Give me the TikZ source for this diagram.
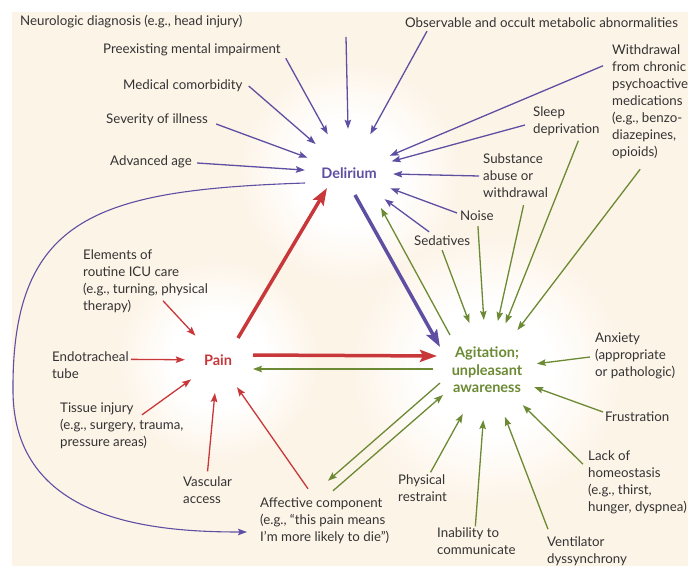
\documentclass[tikz,border=0pt]{standalone}
\usepackage{fontspec}
\setmainfont{Lato}
\usetikzlibrary{arrows.meta,calc}
\definecolor{bgc}{HTML}{FDF4E8}
\definecolor{pur}{HTML}{5E4FA2}
\definecolor{redc}{HTML}{C8383A}
\definecolor{grn}{HTML}{6B8A33}
\definecolor{txt}{HTML}{333333}
\pgfdeclareradialshading{glow}{\pgfpoint{0bp}{0bp}}{color(0bp)=(white); color(12bp)=(white); color(25bp)=(bgc); color(50bp)=(bgc)}
\begin{document}
\begin{tikzpicture}[x=1pt,y=-1pt,
  lab/.style={font=\fontsize{13.3}{17}\selectfont, text=txt, align=left, inner sep=0pt, anchor=west},
  cnode/.style={circle, inner sep=0pt, font=\fontsize{14.5}{17.5}\selectfont\bfseries, align=center},
  parr/.style={draw=pur, line width=1.3pt, -{Stealth[length=9pt,width=6.5pt,inset=1.5pt]}},
  garr/.style={draw=grn, line width=1.3pt, -{Stealth[length=9pt,width=6.5pt,inset=1.5pt]}},
  rarr/.style={draw=redc, line width=1.3pt, -{Stealth[length=9pt,width=6.5pt,inset=1.5pt]}},
  thick arr/.style={line width=3.5pt, -{Stealth[length=17pt,width=12pt,inset=3pt]}}]
\useasboundingbox (0,0) rectangle (688,572);
\fill[bgc] (12,12) rectangle (688,566);
\shade[shading=glow] (349,173) circle (110pt);
\shade[shading=glow] (218,360) circle (100pt);
\shade[shading=glow] (487,370) circle (135pt);

% centre nodes
\node[cnode, text=pur, minimum size=88pt] (delir) at (349,173) {Delirium};
\node[cnode, text=redc, minimum size=66pt] (pain) at (218,360) {Pain};
\node[cnode, text=grn, minimum size=100pt] (agit) at (487,370) {Agitation;\\unpleasant\\awareness};

% labels
\node[lab] (neuro) at (20,22) {Neurologic diagnosis (e.g., head injury)};
\node[lab] (preex) at (103,50) {Preexisting mental impairment};
\node[lab] (medcom) at (123,86) {Medical comorbidity};
\node[lab] (sever) at (106,120) {Severity of illness};
\node[lab] (age) at (110,162) {Advanced age};
\node[lab] (metab) at (405,23) {Observable and occult metabolic abnormalities};
\node[lab] (withd) at (612,102) {Withdrawal\\from chronic\\psychoactive\\medications\\(e.g., benzo-\\diazepines,\\opioids)};
\node[lab] (sleep) at (533,121) {Sleep\\deprivation};
\node[lab] (subst) at (483,176) {Substance\\abuse or\\withdrawal};
\node[lab] (noise) at (460,216) {Noise};
\node[lab] (sedat) at (414,241) {Sedatives};
\node[lab] (elem) at (83,281) {Elements of\\routine ICU care\\(e.g., turning, physical\\therapy)};
\node[lab] (endo) at (52,365) {Endotracheal\\tube};
\node[lab] (tissue) at (60,426) {Tissue injury\\(e.g., surgery, trauma,\\pressure areas)};
\node[lab] (vasc) at (183,490) {Vascular\\access};
\node[lab] (affect) at (260,521) {Affective component\\(e.g., “this pain means\\I’m more likely to die”)};
\node[lab] (anxiety) at (595,356) {Anxiety\\(appropriate\\or pathologic)};
\node[lab] (frust) at (605,417) {Frustration};
\node[lab] (lack) at (588,482) {Lack of\\homeostasis\\(e.g., thirst,\\hunger, dyspnea)};
\node[lab] (phys) at (398,488) {Physical\\restraint};
\node[lab] (inab) at (437,541) {Inability to\\communicate};
\node[lab] (vent) at (547,551) {Ventilator\\dyssynchrony};

% purple arrows into Delirium
\coordinate (topc) at (346,37);
\draw[parr] (topc) -- (delir);
\draw[parr] ($(preex.south east)+(5,2)$) -- (delir);
\draw[parr] ($(medcom.east)+(6,0)$) -- (delir);
\draw[parr] ($(sever.east)+(8,4)$) -- (delir);
\draw[parr] ($(age.east)+(5,1)$) -- (delir);
\draw[parr] ($(metab.south west)+(22,3)$) -- (delir);
\draw[parr] ($(withd.north west)+(-9,21)$) -- (delir);
\draw[parr] ($(sleep.west)+(-8,4)$) -- (delir);
\draw[parr] ($(subst.west)+(-4,0)$) -- (delir);
\draw[parr] ($(noise.west)+(-3,-3)$) -- (delir);
\draw[parr] ($(sedat.north)+(-13,-4)$) -- (delir);

% green arrows into Agitation
\draw[garr] ($(sedat.south)+(0,4)$) -- (agit);
\draw[garr] ($(noise.south)+(1,5)$) -- (agit);
\draw[garr] ($(subst.south)+(8,7)$) -- (agit);
\draw[garr] ($(sleep.south)+(12,5)$) -- (agit);
\draw[garr] ($(withd.south)+(-10,10)$) -- (agit);
\draw[garr] ($(anxiety.west)+(-5,1)$) -- (agit);
\draw[garr] ($(frust.west)+(-2,-5)$) -- (agit);
\draw[garr] ($(lack.north west)+(-5,14)$) -- (agit);
\draw[garr] ($(vent.north west)+(1,-7)$) -- (agit);
\draw[garr] ($(inab.north)+(-1,-1)$) -- (agit);
\draw[garr] ($(phys.north)+(8,-2)$) -- (agit);

% red arrows into Pain
\draw[rarr] ($(elem.south west)+(80,-12)$) -- (pain);
\draw[rarr] ($(endo.north east)+(2,8)$) -- (pain);
\draw[rarr] ($(tissue.north west)+(82,12)$) -- (pain);
\draw[rarr] ($(vasc.north)+(0,-5)$) -- (pain);
\draw[rarr] ($(affect.north west)+(48,-9)$) -- (pain);

% main triangle
\draw[thick arr, draw=redc, fill=redc] ($(pain)+(20,-22)$) -- ($(delir)+(-22,15)$);
\draw[thick arr, draw=redc, fill=redc] ($(pain)+(35,-5)$) -- ($(agit)+(-50,-14)$);
\draw[thick arr, draw=pur, fill=pur] ($(delir)+(6,22)$) -- ($(agit)+(-47,-23)$);
\draw[garr] ($(agit)+(-54,-1)$) -- ($(pain)+(35,9)$);
\draw[garr] ($(agit)+(-37,-35)$) -- ($(delir)+(32,35)$);
\draw[garr] ($(agit)+(-47,13)$) -- ($(affect.north west)+(68,-17)$);
\draw[garr] ($(affect.north west)+(73,-7)$) -- ($(agit)+(-44,25)$);

% long purple curve
\draw[parr, line width=1.1pt] ($(delir)+(-44,10)$) .. controls (100,190) and (12,215) .. (13,390)
  .. controls (13,520) and (150,532) .. ($(affect.west)+(-13,11)$);
\end{tikzpicture}
\end{document}
